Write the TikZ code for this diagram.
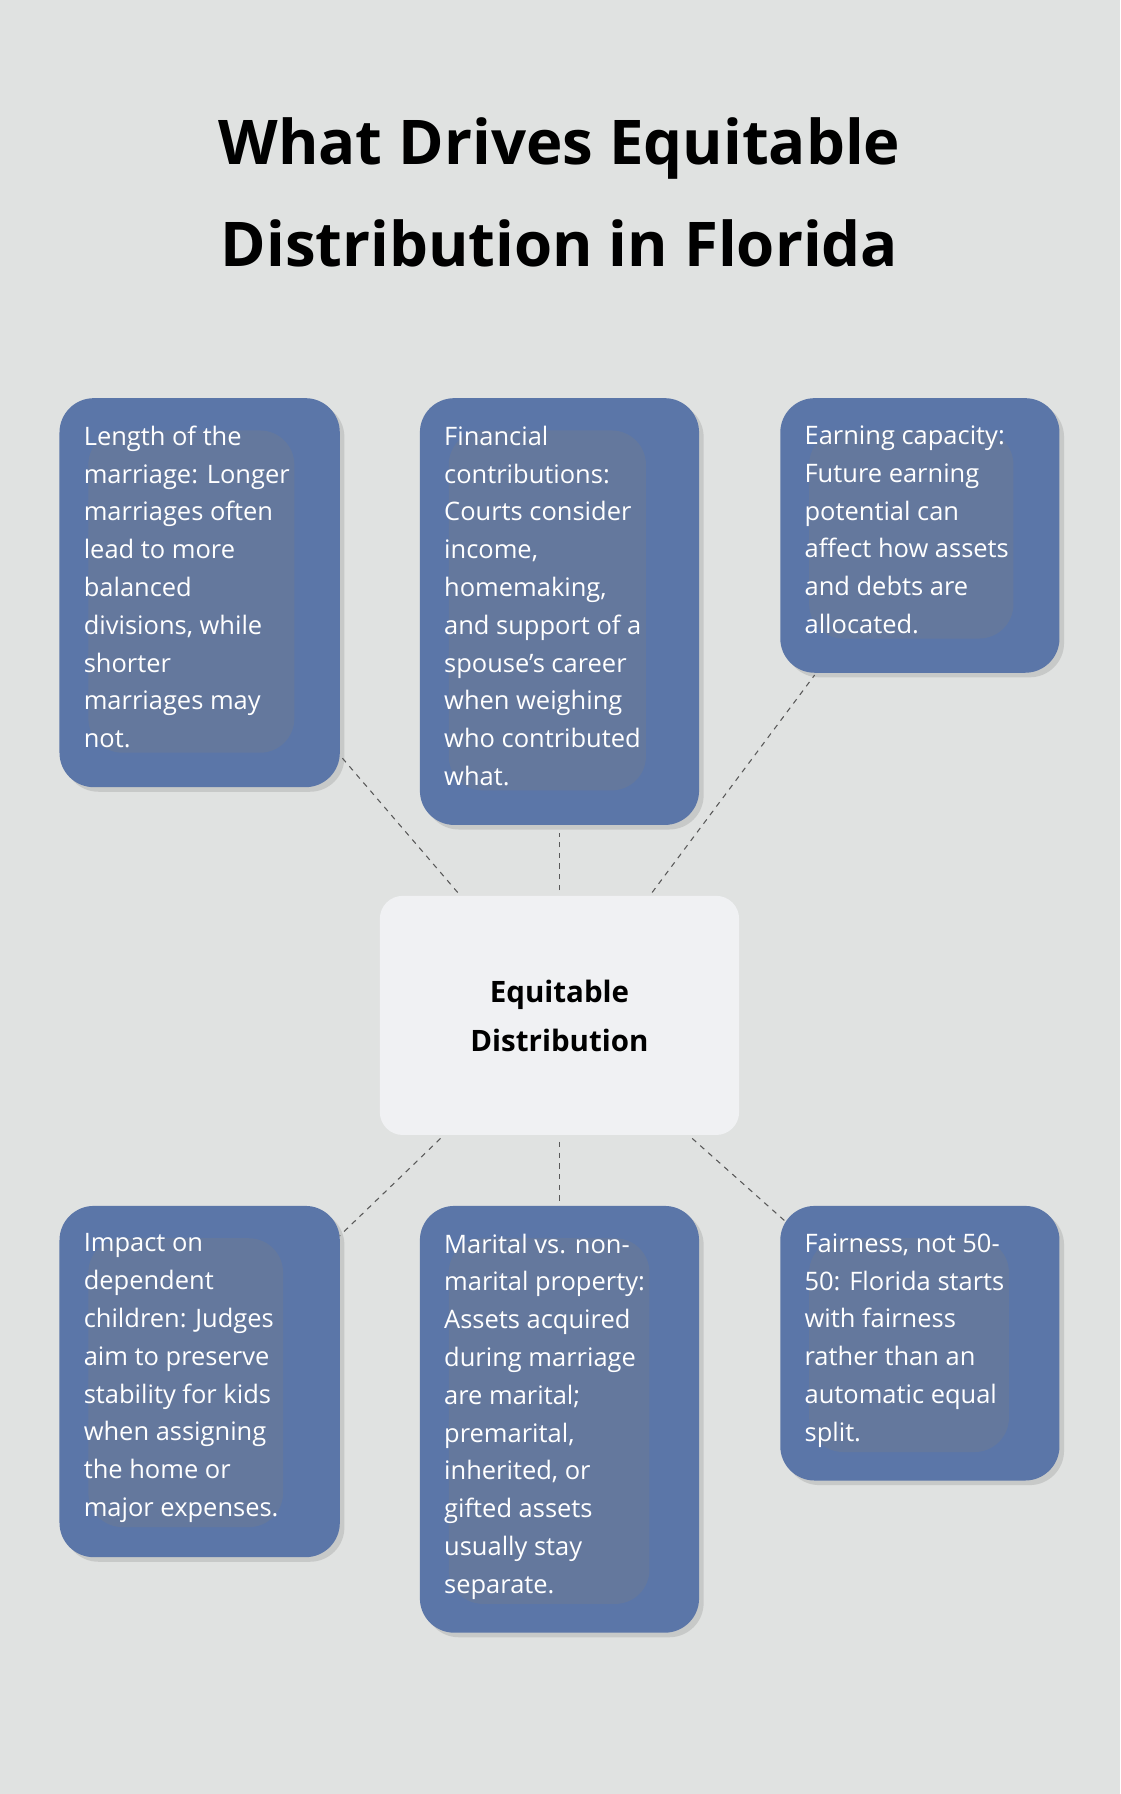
\documentclass[tikz,border=0pt]{standalone}
\usepackage{fontspec}
\setmainfont{Open Sans}
\usetikzlibrary{positioning, shadows}
\definecolor{bgcol}{HTML}{E0E2E1}
\definecolor{boxcol}{HTML}{5B76A8}
\definecolor{centcol}{HTML}{F0F1F3}
\begin{document}
\begin{tikzpicture}[
        x=0.03cm, y=-0.03cm,
        card/.style={draw=none, fill=boxcol, rounded corners=0.9cm, text=white,
            anchor=north west, align=left, inner sep=0pt,
            font=\fontsize{19}{28.2}\selectfont,
            drop shadow={shadow xshift=0.12cm, shadow yshift=-0.12cm, opacity=0.25}},
        link/.style={thick, dashed, draw=black!65, dash pattern=on 4pt off 4pt}
    ]
    \fill[bgcol] (0,0) rectangle (979,1568);
    % title
    \node (title) at (489,168) [align=center, font=\fontsize{46}{76}\selectfont\bfseries]
        {What Drives Equitable\\Distribution in Florida};
    % boxes
    \fill[boxcol, drop shadow={shadow xshift=0.12cm, shadow yshift=-0.12cm, opacity=0.25}, rounded corners=0.9cm]
        (52,348) rectangle (297,688) (367,348) rectangle (611,721) (682,348) rectangle (926,588)
        (52,1054) rectangle (297,1361) (367,1054) rectangle (611,1427) (682,1054) rectangle (926,1294);
    \fill[centcol, rounded corners=0.6cm] (332,783) rectangle (646,992);
    \node (center) at (489,888) [align=center, font=\fontsize{22}{36}\selectfont\bfseries]
        {Equitable\\Distribution};
    \node (length) at (73,372) [card, fill=none, drop shadow={opacity=0}]
        {Length of the\\marriage: Longer\\marriages often\\lead to more\\balanced\\divisions, while\\shorter\\marriages may\\not.};
    \node (money) at (388,372) [card, fill=none, drop shadow={opacity=0}]
        {Financial\\contributions:\\Courts consider\\income,\\homemaking,\\and support of a\\spouse’s career\\when weighing\\who contributed\\what.};
    \node (earning) at (703,372) [card, fill=none, drop shadow={opacity=0}]
        {Earning capacity:\\Future earning\\potential can\\affect how assets\\and debts are\\allocated.};
    \node (kids) at (73,1078) [card, fill=none, drop shadow={opacity=0}]
        {Impact on\\dependent\\children: Judges\\aim to preserve\\stability for kids\\when assigning\\the home or\\major expenses.};
    \node (marital) at (388,1078) [card, fill=none, drop shadow={opacity=0}]
        {Marital vs. non-\\marital property:\\Assets acquired\\during marriage\\are marital;\\premarital,\\inherited, or\\gifted assets\\usually stay\\separate.};
    \node (fair) at (703,1078) [card, fill=none, drop shadow={opacity=0}]
        {Fairness, not 50-\\50: Florida starts\\with fairness\\rather than an\\automatic equal\\split.};
    % connectors
    \coordinate (c1) at (400,780); \coordinate (b1) at (297,660);
    \coordinate (c2) at (489,778); \coordinate (b2) at (489,728);
    \coordinate (c3) at (570,780); \coordinate (b3) at (712,590);
    \coordinate (c4) at (385,995); \coordinate (b4) at (297,1080);
    \coordinate (c5) at (489,998); \coordinate (b5) at (489,1050);
    \coordinate (c6) at (605,995); \coordinate (b6) at (687,1068);
    \foreach \i in {1,...,6} {
        \draw[link] (c\i) -- (b\i);
    }
\end{tikzpicture}
\end{document}
